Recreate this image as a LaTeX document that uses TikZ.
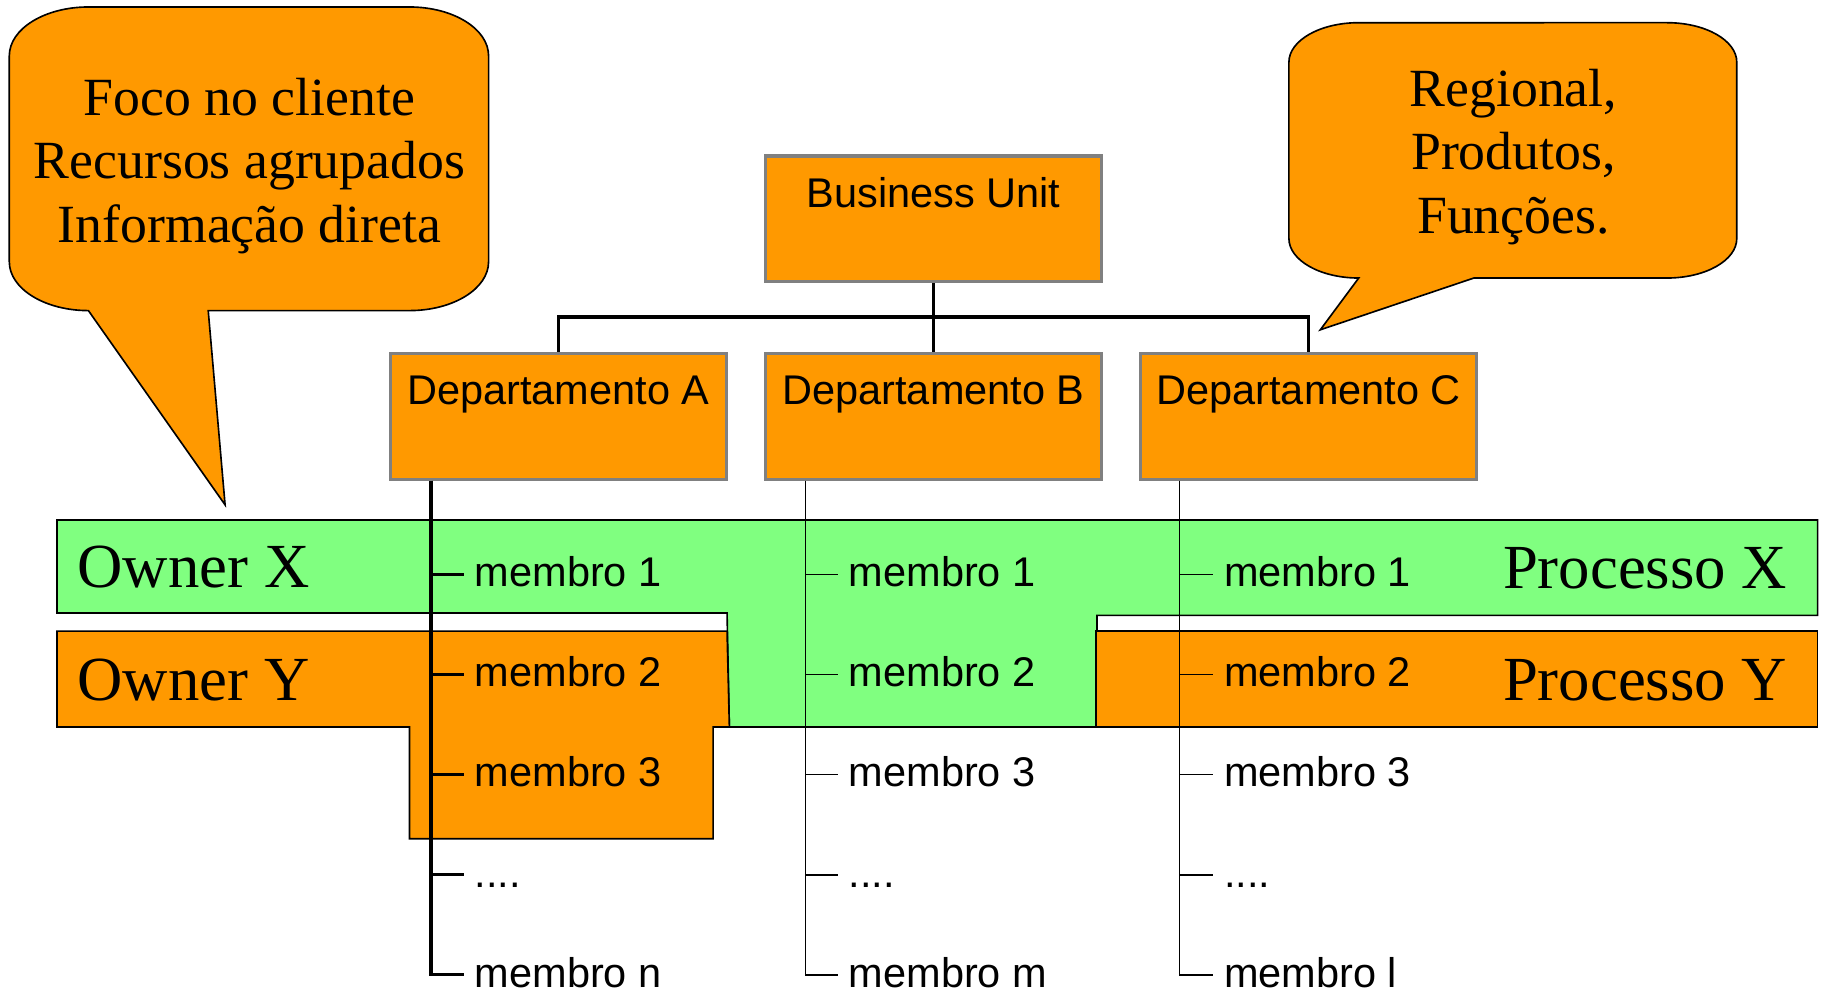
\documentclass[tikz,border=0pt]{standalone}
\usepackage{fontspec}
\setmainfont{Liberation Serif}
\setsansfont{Liberation Sans}
\definecolor{laranja}{RGB}{255,153,0}
\definecolor{verde}{RGB}{128,255,128}
\definecolor{cinza}{RGB}{128,128,128}

\begin{document}
\begin{tikzpicture}[thick,
	unit/.style = {draw=cinza, line width=1.6pt, fill=laranja, font=\sffamily\fontsize{20.3}{24}\selectfont, minimum width=5.78cm, inner xsep=0pt, inner ysep=0pt, text height=0.88cm, text depth=1.28cm},
	membro/.style = {anchor=west, font=\sffamily\fontsize{20.3}{24}\selectfont, inner xsep=0.17cm, inner ysep=0pt, text height=0.42cm, text depth=0pt},
	liga/.style = {line width=1.7pt},
	grosso/.style = {line width=1.6pt},
	fino/.style = {line width=0.7pt},
	band/.style = {draw},
	owner/.style = {inner sep=0pt, font=\fontsize{30.7}{36}\selectfont},
	balao/.style = {draw, fill=laranja},
	nota/.style = {align=center, inner sep=0pt, font=\fontsize{26.3}{31.1}\selectfont}]

		\useasboundingbox (0,0) rectangle (31.36,-17.12);

		\draw[balao] (0.16,-0.96) arc[start angle=180, end angle=90, x radius=1.36, y radius=0.84] -- (7.04,-0.12)
			arc[start angle=90, end angle=0, x radius=1.36, y radius=0.84] -- (8.40,-4.50)
			arc[start angle=0, end angle=-90, x radius=1.36, y radius=0.84] -- (3.58,-5.34) -- (3.87,-8.68) -- (1.52,-5.34)
			arc[start angle=270, end angle=180, x radius=1.36, y radius=0.84] -- cycle;
		\draw[balao] (22.16,-1.07) arc[start angle=180, end angle=90, x radius=1.2, y radius=0.68] -- (28.66,-0.39)
			arc[start angle=90, end angle=0, x radius=1.2, y radius=0.68] -- (29.86,-4.10)
			arc[start angle=0, end angle=-90, x radius=1.2, y radius=0.68] -- (25.34,-4.78) -- (22.70,-5.67) -- (23.36,-4.78)
			arc[start angle=270, end angle=180, x radius=1.2, y radius=0.68] -- cycle;

		\node[nota, anchor=base] (foco) at (4.29,-4.17) {Foco no cliente\\Recursos agrupados\\Informação direta};
		\node[nota, anchor=base] (tipos) at (26.02,-4.01) {Regional,\\Produtos,\\Funções.};

		\draw[band, fill=verde] (0.98,-8.94) -- (31.25,-8.94) -- (31.25,-10.58) -- (18.86,-10.58) -- (18.86,-12.50) -- (12.54,-12.50) -- (12.50,-10.54) -- (0.98,-10.54) -- cycle;
		\draw[band, fill=laranja] (0.98,-10.85) -- (12.50,-10.85) -- (12.54,-12.50) -- (12.26,-12.50) -- (12.26,-14.42) -- (7.04,-14.42) -- (7.04,-12.50) -- (0.98,-12.50) -- cycle;
		\draw[band, fill=laranja] (18.84,-10.85) -- (31.25,-10.85) -- (31.25,-12.50) -- (18.84,-12.50) -- cycle;

		\node[owner, anchor=base west] (ownX) at (1.32,-10.10) {Owner X};
		\node[owner, anchor=base west] (ownY) at (1.32,-12.05) {Owner Y};
		\node[owner, anchor=base east] (procX) at (30.74,-10.11) {Processo X};
		\node[owner, anchor=base east] (procY) at (30.74,-12.04) {Processo Y};

		\node[unit] (BU) at (16.05,-3.76) {Business Unit};
		\node[unit] (depA) at (9.60,-7.16) {Departamento A};
		\node[unit] (depB) at (16.05,-7.16) {Departamento B};
		\node[unit] (depC) at (22.50,-7.16) {Departamento C};

		\draw[liga] (BU) -- (depB);
		\draw[liga] (BU.south) -- ++(0,-0.58) -| (depA.north);
		\draw[liga] (BU.south) -- ++(0,-0.58) -| (depC.north);

		\coordinate (A0) at ([xshift=0.73cm]depA.south west);
		\coordinate (B0) at ([xshift=0.72cm]depB.south west);
		\coordinate (C0) at ([xshift=0.70cm]depC.south west);

		\node[membro] (A1) at (7.98,-9.88) {membro 1};
		\node[membro] (A2) at (7.98,-11.60) {membro 2};
		\node[membro] (A3) at (7.98,-13.32) {membro 3};
		\node[membro] (A4) at (7.98,-15.04) {....};
		\node[membro] (A5) at (7.98,-16.76) {membro n};

		\node[membro] (B1) at (14.41,-9.88) {membro 1};
		\node[membro] (B2) at (14.41,-11.60) {membro 2};
		\node[membro] (B3) at (14.41,-13.32) {membro 3};
		\node[membro] (B4) at (14.41,-15.04) {....};
		\node[membro] (B5) at (14.41,-16.76) {membro m};

		\node[membro] (C1) at (20.86,-9.88) {membro 1};
		\node[membro] (C2) at (20.86,-11.60) {membro 2};
		\node[membro] (C3) at (20.86,-13.32) {membro 3};
		\node[membro] (C4) at (20.86,-15.04) {....};
		\node[membro] (C5) at (20.86,-16.76) {membro l};

		\draw[grosso] (A0) |- (A1.west);
		\draw[grosso] (A0) |- (A2.west);
		\draw[grosso] (A0) |- (A3.west);
		\draw[grosso] (A0) |- (A4.west);
		\draw[grosso] (A0) |- (A5.west);
		\draw[fino] (B0) |- (B1.west);
		\draw[fino] (B0) |- (B2.west);
		\draw[fino] (B0) |- (B3.west);
		\draw[fino] (B0) |- (B4.west);
		\draw[fino] (B0) |- (B5.west);
		\draw[fino] (C0) |- (C1.west);
		\draw[fino] (C0) |- (C2.west);
		\draw[fino] (C0) |- (C3.west);
		\draw[fino] (C0) |- (C4.west);
		\draw[fino] (C0) |- (C5.west);
	\end{tikzpicture}
\end{document}
